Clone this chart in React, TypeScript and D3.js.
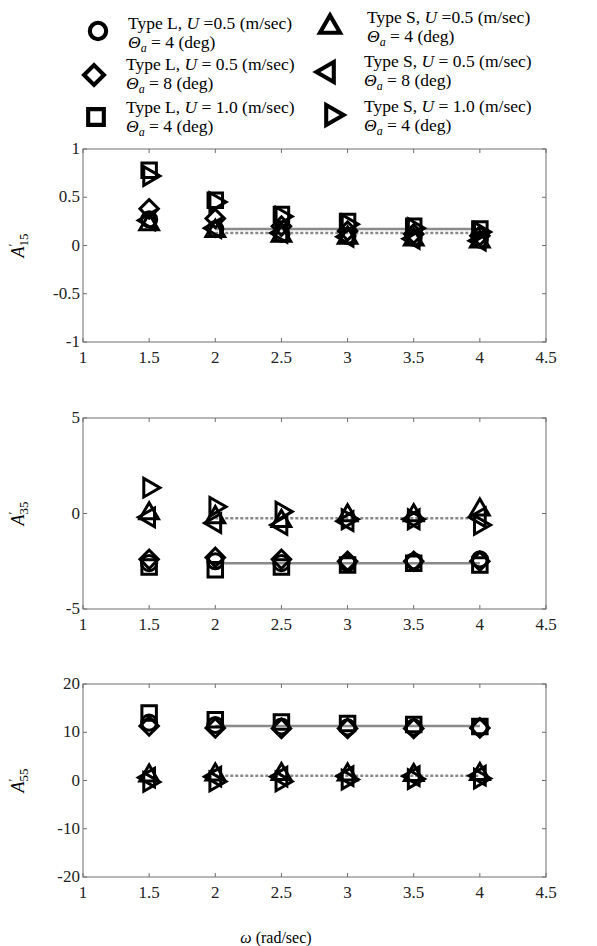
import React, { useEffect, useRef } from 'react';
import * as d3 from 'd3';

const omega = [1.5, 2, 2.5, 3, 3.5, 4];
const xTicks = [1, 1.5, 2, 2.5, 3, 3.5, 4, 4.5];

// A'15
const a15Circle = [0.27, 0.17, 0.12, 0.1, 0.08, 0.06];
const a15Diamond = [0.38, 0.28, 0.2, 0.15, 0.12, 0.1];
const a15Square = [0.78, 0.47, 0.32, 0.25, 0.2, 0.17];
const a15TriUp = [0.22, 0.15, 0.1, 0.08, 0.06, 0.04];
const a15TriLeft = [0.26, 0.18, 0.13, 0.09, 0.07, 0.05];
const a15TriRight = [0.72, 0.45, 0.3, 0.22, 0.18, 0.14];
const a15Lines = [0.17, 0.13];

// A'35
const a35Circle = [-2.6, -2.5, -2.6, -2.6, -2.5, -2.4];
const a35Diamond = [-2.4, -2.3, -2.4, -2.5, -2.5, -2.5];
const a35Square = [-2.8, -2.95, -2.8, -2.7, -2.6, -2.7];
const a35TriUp = [0.0, -0.2, -0.4, -0.1, -0.1, 0.2];
const a35TriLeft = [-0.2, -0.5, -0.6, -0.4, -0.3, -0.2];
const a35TriRight = [1.35, 0.35, 0.1, -0.3, -0.3, -0.6];
const a35Lines = [-2.6, -0.25];

// A'55
const a55Circle = [12.0, 11.5, 11.2, 11.0, 11.0, 11.0];
const a55Diamond = [11.3, 10.9, 10.8, 10.8, 10.8, 10.9];
const a55Square = [14.0, 12.6, 12.1, 11.8, 11.6, 11.2];
const a55TriUp = [1.0, 1.2, 1.3, 1.2, 1.1, 1.3];
const a55TriLeft = [0.6, 0.8, 0.8, 0.9, 0.9, 1.0];
const a55TriRight = [-0.3, -0.2, -0.2, 0.2, 0.3, 0.4];
const a55Lines = [11.3, 1.0];

const legendRows = [
  { marker: 'circle', type: 'L', u: '=0.5', theta: '4' },
  { marker: 'diamond', type: 'L', u: '= 0.5', theta: '8' },
  { marker: 'square', type: 'L', u: '= 1.0', theta: '4' },
  { marker: 'triUp', type: 'S', u: '=0.5', theta: '4' },
  { marker: 'triLeft', type: 'S', u: '= 0.5', theta: '8' },
  { marker: 'triRight', type: 'S', u: '= 1.0', theta: '4' },
];

const panels = [
  {
    sub: '15', domain: [-1, 1], ticks: [-1, -0.5, 0, 0.5, 1], top: 149, bottom: 342,
    series: { circle: a15Circle, diamond: a15Diamond, square: a15Square, triUp: a15TriUp, triLeft: a15TriLeft, triRight: a15TriRight },
    lines: a15Lines,
  },
  {
    sub: '35', domain: [-5, 5], ticks: [-5, 0, 5], top: 418, bottom: 609,
    series: { circle: a35Circle, diamond: a35Diamond, square: a35Square, triUp: a35TriUp, triLeft: a35TriLeft, triRight: a35TriRight },
    lines: a35Lines,
  },
  {
    sub: '55', domain: [-20, 20], ticks: [-20, -10, 0, 10, 20], top: 684, bottom: 877,
    series: { circle: a55Circle, diamond: a55Diamond, square: a55Square, triUp: a55TriUp, triLeft: a55TriLeft, triRight: a55TriRight },
    lines: a55Lines,
  },
];

const FONT = "'Liberation Serif', 'DejaVu Serif', serif";

function markerPath(kind: string) {
  if (kind === 'circle') return { d: d3.symbol(d3.symbolCircle, 180)()!, rot: 0 };
  if (kind === 'square') return { d: d3.symbol(d3.symbolSquare, 210)()!, rot: 0 };
  if (kind === 'diamond') return { d: d3.symbol(d3.symbolSquare, 170)()!, rot: 45 };
  const tri = d3.symbol(d3.symbolTriangle, 150)()!;
  if (kind === 'triLeft') return { d: tri, rot: -90 };
  if (kind === 'triRight') return { d: tri, rot: 90 };
  return { d: tri, rot: 0 };
}

const App: React.FC = () => {
  const ref = useRef<SVGSVGElement>(null);

  useEffect(() => {
    const svg = d3.select(ref.current);
    svg.selectAll('*').remove();

    const left = 83, right = 546;
    const x = d3.scaleLinear().domain([1, 4.5]).range([left, right]);

    // legend
    legendRows.forEach((r, i) => {
      const col = i < 3 ? 0 : 1;
      const row = i % 3;
      const mx = col === 0 ? [98, 94, 96][row] : [330, 328, 332][row];
      const my = col === 0 ? [31, 75, 117][row] : [27, 72, 115][row];
      const tx = col === 0 ? [128, 126, 126][row] : [367, 364, 364][row];
      const ty = col === 0 ? [29, 70, 113][row] : [23, 67, 112][row];
      const m = markerPath(r.marker);
      svg.append('path')
        .attr('d', m.d)
        .attr('transform', `translate(${mx},${my}) rotate(${m.rot}) scale(1.08)`)
        .attr('fill', 'none').attr('stroke', '#000').attr('stroke-width', 3.8);

      const t1 = svg.append('text').attr('x', tx).attr('y', ty)
        .style('font-family', FONT).style('font-size', '17.5px');
      t1.append('tspan').text(`Type ${r.type}, `);
      t1.append('tspan').style('font-style', 'italic').text('U');
      t1.append('tspan').text(` ${r.u} (m/sec)`);

      const t2 = svg.append('text').attr('x', tx).attr('y', ty + 19)
        .style('font-family', FONT).style('font-size', '17.5px');
      t2.append('tspan').style('font-style', 'italic').text('Θ');
      t2.append('tspan').style('font-style', 'italic').attr('dy', 4).style('font-size', '12px').text('a');
      t2.append('tspan').attr('dy', -4).text(` = ${r.theta} (deg)`);
    });

    panels.forEach(p => {
      const y = d3.scaleLinear().domain(p.domain).range([p.bottom, p.top]);
      const g = svg.append('g');

      // frame
      g.append('rect')
        .attr('x', left).attr('y', p.top)
        .attr('width', right - left).attr('height', p.bottom - p.top)
        .attr('fill', 'none').attr('stroke', '#6e6e6e').attr('stroke-width', 1);

      // ticks, inward on all sides
      xTicks.forEach(v => {
        g.append('line').attr('x1', x(v)).attr('x2', x(v)).attr('y1', p.bottom).attr('y2', p.bottom - 4)
          .attr('stroke', '#6e6e6e');
        g.append('line').attr('x1', x(v)).attr('x2', x(v)).attr('y1', p.top).attr('y2', p.top + 4)
          .attr('stroke', '#6e6e6e');
        g.append('text').attr('x', x(v)).attr('y', p.bottom + 21)
          .attr('text-anchor', 'middle')
          .style('font-family', FONT).style('font-size', '17px').attr('fill', '#222')
          .text(String(v));
      });
      p.ticks.forEach(v => {
        g.append('line').attr('x1', left).attr('x2', left + 4).attr('y1', y(v)).attr('y2', y(v))
          .attr('stroke', '#6e6e6e');
        g.append('line').attr('x1', right).attr('x2', right - 4).attr('y1', y(v)).attr('y2', y(v))
          .attr('stroke', '#6e6e6e');
        g.append('text').attr('x', left - 3).attr('y', y(v) + 5)
          .attr('text-anchor', 'end')
          .style('font-family', FONT).style('font-size', '17px').attr('fill', '#222')
          .text(String(v));
      });

      // y label
      const lab = g.append('text')
        .attr('transform', `translate(24,${(p.top + p.bottom) / 2}) rotate(-90)`)
        .attr('text-anchor', 'middle')
        .style('font-family', FONT).style('font-size', '18px');
      lab.append('tspan').style('font-style', 'italic').text('A');
      lab.append('tspan').attr('dy', -7).style('font-size', '13px').text('′');
      lab.append('tspan').attr('dy', 11).attr('dx', -3).style('font-size', '13px').text(p.sub);

      // mean lines (Type L solid, Type S dotted)
      g.append('line')
        .attr('x1', x(2)).attr('x2', x(4)).attr('y1', y(p.lines[0])).attr('y2', y(p.lines[0]))
        .attr('stroke', '#8a8a8a').attr('stroke-width', 2.5);
      g.append('line')
        .attr('x1', x(2)).attr('x2', x(4)).attr('y1', y(p.lines[1])).attr('y2', y(p.lines[1]))
        .attr('stroke', '#8a8a8a').attr('stroke-width', 2.5).attr('stroke-dasharray', '3,2');

      // markers
      Object.entries(p.series).forEach(([kind, vals]) => {
        const m = markerPath(kind);
        vals.forEach((v, i) => {
          g.append('path')
            .attr('d', m.d)
            .attr('transform', `translate(${x(omega[i])},${y(v)}) rotate(${m.rot})`)
            .attr('fill', 'none').attr('stroke', '#000').attr('stroke-width', 3);
        });
      });
    });

    // x title
    const xt = svg.append('text').attr('x', 276).attr('y', 943)
      .attr('text-anchor', 'middle')
      .style('font-family', FONT).style('font-size', '16px');
    xt.append('tspan').style('font-style', 'italic').text('ω');
    xt.append('tspan').text(' (rad/sec)');
  }, []);

  return (
    <div style={{ position: 'absolute', left: 0, top: 0 }}>
      <svg ref={ref} width={597} height={946} style={{ display: 'block', background: '#fff' }} />
    </div>
  );
};

export default App;
